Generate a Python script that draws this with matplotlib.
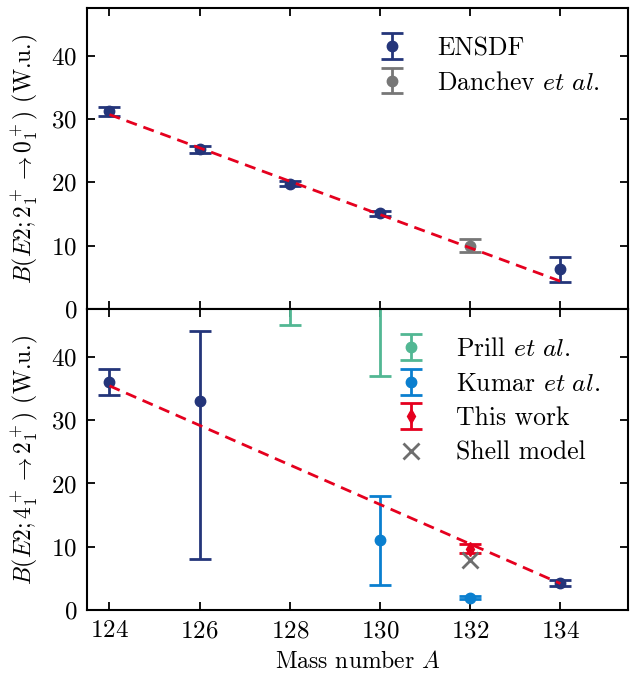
import matplotlib
matplotlib.use("Agg")
import matplotlib.pyplot as plt
import numpy as np

plt.rcParams['font.family'] = 'cmr10'
plt.rcParams['mathtext.fontset'] = 'cm'
plt.rcParams['axes.formatter.use_mathtext'] = True
plt.rcParams['font.size'] = 17

# ---- top panel: B(E2; 2+ -> 0+) ----
ensdf2_A = [124, 126, 128, 130, 134]
ensdf2_B = [31.2, 25.2, 19.8, 15.1, 6.3]
ensdf2_err = [0.7, 0.5, 0.4, 0.4, 2.0]

danchev_A = [132]
danchev_B = [10.0]
danchev_err = [1.0]

fit2_A = [124, 134]
fit2_B = [30.7, 4.4]

# ---- bottom panel: B(E2; 4+ -> 2+) ----
ensdf4_A = [124, 126, 134]
ensdf4_B = [36.0, 33.0, 4.3]
ensdf4_lo = [2.0, 25.0, 0.5]
ensdf4_hi = [2.0, 11.0, 0.5]

prill_A = [128, 130]
prill_B = [52.0, 50.0]
prill_err = [7.0, 13.0]

kumar_A = [130, 132]
kumar_B = [11.0, 2.0]
kumar_err = [7.0, 0.3]

thiswork_A = [132]
thiswork_B = [9.7]
thiswork_err = [0.7]

shell_A = [132]
shell_B = [7.9]

fit4_A = [124, 134]
fit4_B = [35.4, 4.2]

c_ensdf = '#24357a'
c_danchev = '#777777'
c_prill = '#52b793'
c_kumar = '#0a7fcf'
c_this = '#e5001e'
c_fit = '#e5001e'

eb = dict(capsize=8, capthick=2, elinewidth=2, markersize=7.5, ls='none')
leg = dict(loc='upper right', frameon=False, handletextpad=1.0, borderaxespad=0.7,
           labelspacing=0.42, handlelength=1.5, fontsize=18.5)

fig, (ax1, ax2) = plt.subplots(2, 1, figsize=(6.3, 6.75), dpi=100, sharex=True)
fig.subplots_adjust(left=0.138, right=0.997, top=0.988, bottom=0.096, hspace=0)

ax1.errorbar(ensdf2_A, ensdf2_B, yerr=ensdf2_err, fmt='o', color=c_ensdf, label='ENSDF', **eb)
ax1.errorbar(danchev_A, danchev_B, yerr=danchev_err, fmt='o', color=c_danchev,
             label=r'Danchev $\mathit{et\ al.}$', **eb)
ax1.plot(fit2_A, fit2_B, '--', color=c_fit, lw=2, dashes=(4, 2.5), zorder=5)
ax1.set_ylim(0, 47.5)
ax1.set_yticks([0, 10, 20, 30, 40])
ax1.set_ylabel(r'$B(E2;2_1^+\rightarrow 0_1^+)$ (W.u.)', labelpad=7)
ax1.legend(**leg)

ax2.errorbar(ensdf4_A, ensdf4_B, yerr=[ensdf4_lo, ensdf4_hi], fmt='o', color=c_ensdf, **eb)
h_prill = ax2.errorbar(prill_A, prill_B, yerr=prill_err, fmt='o', color=c_prill,
                       label=r'Prill $\mathit{et\ al.}$', **eb)
h_kumar = ax2.errorbar(kumar_A, kumar_B, yerr=kumar_err, fmt='o', color=c_kumar,
                       label=r'Kumar $\mathit{et\ al.}$', **eb)
h_this = ax2.errorbar(thiswork_A, thiswork_B, yerr=thiswork_err, fmt='d', color=c_this,
                      label='This work', **eb)
h_shell, = ax2.plot(shell_A, shell_B, 'x', color='#6e6e6e', markersize=11, mew=2, ls='none',
                    label='Shell model', zorder=4)
ax2.plot(fit4_A, fit4_B, '--', color=c_fit, lw=2, dashes=(4, 2.5), zorder=5)
ax2.set_ylim(0, 47.5)
ax2.set_yticks([0, 10, 20, 30, 40])
ax2.set_ylabel(r'$B(E2;4_1^+\rightarrow 2_1^+)$ (W.u.)', labelpad=7)
ax2.set_xlabel(r'Mass number $A$', labelpad=6)
ax2.set_xlim(123.5, 135.5)
ax2.set_xticks([124, 126, 128, 130, 132, 134])
ax2.legend(handles=[h_prill, h_kumar, h_this, h_shell], **leg)

for ax in (ax1, ax2):
    ax.tick_params(direction='in', top=True, right=True, length=6, width=1.3, pad=7,
                   labelsize=18)
    for s in ax.spines.values():
        s.set_linewidth(1.5)

fig.savefig('out.png', dpi=100)
